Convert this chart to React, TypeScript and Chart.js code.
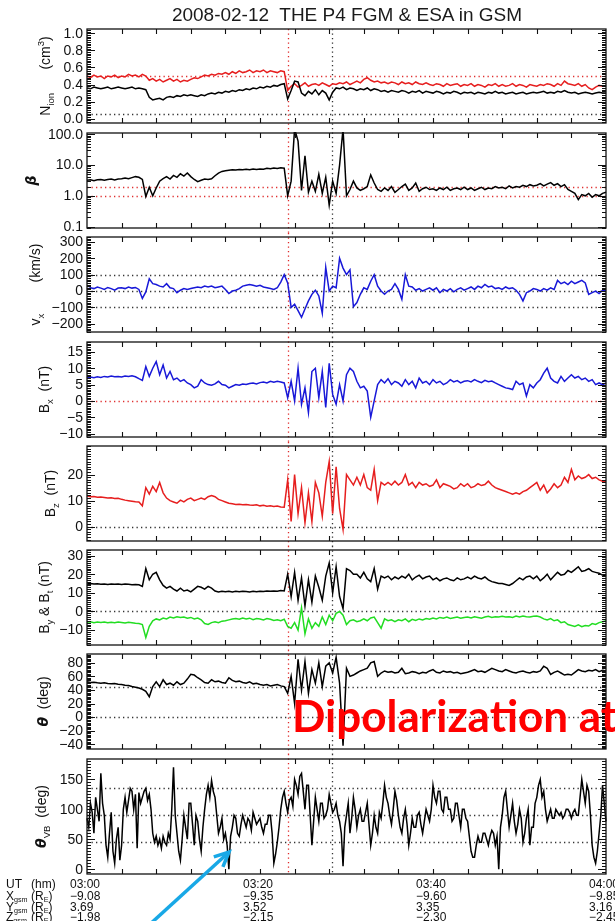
import React, { useEffect, useRef } from "react";
import { Chart, registerables } from "chart.js";

Chart.register(...registerables);

// Sample times in minutes after 03:00 UT (24 s cadence)
const TIMES: number[] = Array.from({ length: 151 }, (_, i) => Math.round(i * 4) / 10);
// Finer cadence used for the flow/field angle (12 s)
const TIMES_FINE: number[] = Array.from({ length: 301 }, (_, i) => Math.round(i * 2) / 10);

// Ion density (cm^-3): red = ESA full, black = ESA reduced
const N_ION_RED = [
  0.50, 0.48, 0.51, 0.49, 0.50, 0.47, 0.50, 0.49, 0.51, 0.48,
  0.50, 0.49, 0.52, 0.50, 0.51, 0.49, 0.52, 0.50, 0.45, 0.47,
  0.44, 0.46, 0.43, 0.45, 0.47, 0.44, 0.46, 0.43, 0.45, 0.44,
  0.46, 0.48, 0.47, 0.49, 0.51, 0.50, 0.52, 0.51, 0.53, 0.52,
  0.54, 0.52, 0.55, 0.53, 0.56, 0.54, 0.55, 0.57, 0.54, 0.56,
  0.55, 0.57, 0.54, 0.56, 0.55, 0.54, 0.56, 0.55, 0.33, 0.38,
  0.41, 0.37, 0.39, 0.42, 0.38, 0.40, 0.41, 0.39, 0.42, 0.40,
  0.38, 0.41, 0.40, 0.42, 0.41, 0.43, 0.40, 0.42, 0.44, 0.42,
  0.46, 0.48, 0.45, 0.43, 0.44, 0.42, 0.43, 0.41, 0.43, 0.42,
  0.40, 0.43, 0.41, 0.42, 0.40, 0.43, 0.41, 0.40, 0.42, 0.40,
  0.39, 0.41, 0.40, 0.38, 0.41, 0.39, 0.40, 0.41, 0.38, 0.40,
  0.39, 0.41, 0.38, 0.40, 0.39, 0.37, 0.40, 0.39, 0.41, 0.38,
  0.40, 0.38, 0.39, 0.41, 0.38, 0.40, 0.39, 0.37, 0.40, 0.39,
  0.38, 0.40, 0.39, 0.41, 0.40, 0.38, 0.41, 0.39, 0.44, 0.41,
  0.40, 0.39, 0.41, 0.38, 0.40, 0.36, 0.34, 0.37, 0.39, 0.38,
  0.39,
];
const N_ION_BLACK = [
  0.36, 0.35, 0.37, 0.36, 0.35, 0.36, 0.37, 0.35, 0.36, 0.37,
  0.36, 0.35, 0.36, 0.37, 0.35, 0.36, 0.35, 0.34, 0.25, 0.22,
  0.23, 0.24, 0.22, 0.25, 0.26, 0.25, 0.27, 0.26, 0.28, 0.27,
  0.28, 0.27, 0.26, 0.28, 0.27, 0.29, 0.30, 0.29, 0.31, 0.30,
  0.32, 0.31, 0.33, 0.32, 0.34, 0.33, 0.35, 0.34, 0.36, 0.35,
  0.37, 0.36, 0.38, 0.37, 0.39, 0.38, 0.40, 0.41, 0.23, 0.33,
  0.44, 0.43, 0.30, 0.27, 0.32, 0.29, 0.34, 0.28, 0.33, 0.30,
  0.22, 0.31, 0.36, 0.35, 0.37, 0.34, 0.36, 0.35, 0.33, 0.35,
  0.34, 0.36, 0.33, 0.35, 0.34, 0.32, 0.33, 0.31, 0.33, 0.32,
  0.31, 0.33, 0.32, 0.30, 0.32, 0.31, 0.33, 0.30, 0.32, 0.31,
  0.30, 0.32, 0.31, 0.29, 0.31, 0.30, 0.32, 0.31, 0.29, 0.31,
  0.30, 0.31, 0.29, 0.31, 0.30, 0.29, 0.31, 0.30, 0.32, 0.30,
  0.31, 0.29, 0.30, 0.31, 0.29, 0.30, 0.31, 0.29, 0.30, 0.31,
  0.30, 0.31, 0.32, 0.30, 0.31, 0.30, 0.32, 0.31, 0.33, 0.31,
  0.30, 0.31, 0.29, 0.30, 0.31, 0.30, 0.29, 0.30, 0.31, 0.30,
  0.30,
];
// Plasma beta
const BETA = [
  3.2, 3.3, 3.1, 3.3, 3.4, 3.2, 3.4, 3.5, 3.3, 3.5,
  3.6, 3.8, 3.6, 3.9, 4.2, 4.0, 3.4, 0.95, 1.9, 1.0,
  1.8, 3.0, 3.6, 4.2, 3.5, 4.6, 4.0, 5.2, 4.4, 5.5,
  4.2, 3.4, 2.9, 3.2, 3.5, 3.4, 3.6, 4.5, 5.5, 6.2,
  6.5, 6.8, 7.0, 6.9, 7.2, 7.0, 7.3, 7.1, 7.4, 7.2,
  7.5, 7.3, 7.8, 7.6, 8.0, 7.7, 8.2, 7.9, 1.0, 3.0,
  150, 60, 1.5, 20, 1.3, 3.0, 1.4, 5.0, 1.2, 4.0,
  0.5, 3.0, 1.2, 10, 150, 1.0, 1.6, 3.0, 1.8, 1.5,
  1.7, 2.0, 4.8, 2.6, 1.6, 1.4, 1.8, 1.5, 2.0, 1.3,
  1.6, 2.0, 2.4, 1.5, 1.8, 2.6, 1.4, 1.7, 1.9, 1.6,
  1.7, 1.5, 1.8, 1.6, 1.9, 1.5, 1.7, 1.8, 1.6, 1.9,
  1.6, 1.8, 1.5, 1.7, 1.9, 1.6, 1.8, 1.7, 2.0, 1.8,
  1.9, 1.7, 2.1, 1.8, 2.0, 1.9, 2.2, 2.0, 2.3, 2.1,
  2.2, 2.5, 2.1, 2.4, 2.7, 2.2, 2.5, 2.0, 2.3, 1.6,
  1.4, 1.2, 0.75, 1.1, 1.0, 1.2, 0.9, 1.1, 1.0, 1.2,
  1.3,
];
// Ion bulk velocity, x component (km/s)
const VX = [
  10, 20, 15, 25, 18, 10, 22, 15, 5, 18,
  20, 15, 25, 18, 22, 10, -45, -5, 75, 45,
  40, 30, 25, 45, 20, 15, -10, 5, 15, 10,
  15, 20, 25, 20, 30, 25, 30, 20, 25, 30,
  10, -15, 0, 5, 15, 30, 35, 40, 35, 30,
  35, 25, 20, 15, 10, 20, 55, 100, 50, -100,
  -80, -120, -160, -110, -60, -20, 5, -30, -135, 145,
  0, 30, 20, 200, 140, 100, 130, -95, -70, -20,
  20, 10, 60, 100, 30, 0, -20, 0, 10, 45,
  10, -50, 100, 30, 25, 5, 15, 0, 10, 20,
  5, 20, -10, 10, 0, 15, -5, 10, 20, 5,
  15, 25, 10, 30, 20, 40, 25, 30, 15, 20,
  10, 25, 15, 20, 5, -20, -60, -10, 0, 15,
  10, 0, 15, 5, 20, 10, 65, 45, 55, 40,
  60, 45, 55, 65, 50, -20, -10, 0, -15, 5,
  0,
];
// Magnetic field components (nT)
const BX = [
  7.0, 7.3, 7.1, 7.4, 7.2, 7.5, 7.3, 7.6, 7.4, 7.5,
  7.3, 7.6, 7.5, 7.7, 7.4, 6.8, 6.3, 10.5, 7.5, 10.0,
  12.0, 8.0, 11.0, 7.0, 9.0, 6.5, 7.0, 6.0, 6.5, 5.5,
  5.0, 4.0, 4.5, 6.5, 5.5, 5.0, 4.8, 5.2, 6.0, 5.0,
  4.8, 4.0, 4.5, 5.0, 4.8, 5.2, 5.0, 5.3, 5.5, 5.2,
  5.6, 5.8, 5.5, 6.0, 5.7, 6.0, 5.8, 5.5, 1.0, 6.0,
  0.0, 10.0, -1.0, 4.0, -3.5, 9.0, 10.0, 1.0, 9.0, -2.0,
  11.5, 2.0, -1.0, 5.0, 0.0, 8.0, 10.0, 9.0, 6.0, 4.0,
  4.5, 3.0, -5.0, 0.0, 5.0, 6.5, 5.5, 6.8, 5.0, 6.0,
  5.5, 4.5, 6.5, 5.0, 6.0, 4.0, 7.0, 5.5, 6.0, 5.0,
  6.5, 5.5, 6.0, 5.0, 5.5, 6.5, 5.8, 6.2, 5.5, 6.0,
  6.2, 5.8, 6.5, 6.0, 5.6, 6.3, 5.9, 6.1, 5.5, 5.0,
  4.5, 4.0, 3.8, 3.5, 6.0, 5.0, 5.5, 1.5, 5.0, 4.0,
  5.5, 6.5, 8.5, 10.0, 7.0, 6.0, 5.5, 7.5, 6.0, 7.0,
  8.0, 7.0, 7.5, 6.5, 7.0, 6.0, 6.5, 5.0, 5.5, 5.0,
  5.5,
];
const BZ = [
  11.8, 11.5, 11.6, 11.3, 11.4, 11.2, 11.0, 11.1, 10.8, 10.9,
  10.5, 10.2, 10.0, 9.8, 9.6, 9.5, 8.0, 15.0, 12.5, 15.5,
  13.5, 17.0, 13.0, 11.0, 10.0, 9.5, 9.0, 10.2, 9.5, 10.5,
  11.0, 10.0, 10.5, 11.0, 10.5, 11.5, 12.0, 11.5, 10.5, 10.0,
  9.5, 9.0, 8.8, 8.5, 8.6, 8.4, 8.5, 8.3, 8.2, 8.4,
  8.0, 8.2, 7.9, 8.0, 7.8, 7.9, 7.6, 7.5, 18.0, 2.0,
  20.0, 5.0, 15.0, 1.5, 13.0, 2.0, 17.0, 13.0, 4.0, 17.0,
  25.0, 5.0, 23.0, 7.0, -1.0, 20.0, 18.0, 16.0, 19.0, 16.0,
  20.0, 15.0, 14.0, 22.0, 10.0, 17.0, 16.0, 17.0, 16.0, 17.5,
  16.0, 17.0, 20.0, 16.0, 17.0, 15.0, 17.0, 16.0, 16.5, 15.5,
  16.0, 18.0, 15.0, 16.5, 16.0, 15.5, 14.5, 15.0, 16.5, 15.5,
  16.5, 15.0, 15.5, 16.5, 15.8, 16.2, 17.5, 16.0, 15.0, 14.5,
  14.0, 13.5, 13.0, 12.5, 13.0, 12.5, 13.5, 14.0, 15.0, 16.0,
  17.0, 14.0, 16.0, 13.0, 14.5, 16.5, 15.0, 16.0, 19.0, 17.0,
  22.0, 18.0, 19.5, 18.5, 19.0, 20.0, 18.5, 19.0, 18.0, 17.5,
  17.5,
];
const BT = [
  14.8, 15.0, 14.7, 14.9, 14.6, 14.8, 14.5, 14.7, 14.6, 14.8,
  14.5, 14.7, 14.6, 14.4, 14.5, 14.3, 13.5, 23.0, 17.0, 20.0,
  21.0, 17.0, 14.0, 12.5, 13.5, 12.0, 11.0, 12.5, 11.0, 11.5,
  10.5, 12.0, 13.5, 13.0, 12.0, 13.5, 12.5, 11.0, 10.5, 10.8,
  10.6, 10.9, 10.5, 10.8, 10.6, 10.9, 10.7, 10.5, 10.8, 10.6,
  10.9, 10.7, 11.0, 10.8, 11.0, 10.9, 11.2, 11.0, 20.0, 8.0,
  21.0, 6.0, 18.0, 3.0, 17.0, 5.0, 19.0, 13.0, 6.0, 19.0,
  26.0, 10.0, 24.0, 8.0, 1.5, 23.0, 22.0, 20.0, 20.0, 18.0,
  21.0, 17.5, 16.0, 23.0, 12.0, 19.0, 18.0, 19.0, 17.0, 18.5,
  17.5, 19.0, 18.0, 20.0, 17.0, 18.5, 19.5, 17.5, 18.5, 19.0,
  17.0, 18.0, 16.5, 17.5, 18.0, 17.0, 16.5, 18.0, 17.0, 17.5,
  18.5, 17.5, 19.0, 18.0, 17.5, 18.5, 17.0, 16.0, 15.5, 15.0,
  15.0, 14.5, 14.0, 15.0, 16.5, 18.0, 17.0, 18.5, 19.0, 17.5,
  19.0, 16.5, 18.0, 20.0, 17.0, 19.0, 21.0, 19.5, 20.0, 22.0,
  21.0, 22.5, 24.0, 21.5, 22.0, 23.0, 21.5, 21.0, 20.5, 19.5,
  19.0,
];
const BY = [
  -5.8, -5.5, -6.0, -5.7, -5.9, -5.6, -6.1, -5.8, -6.0, -5.7,
  -5.9, -6.2, -5.8, -6.0, -6.3, -6.5, -7.0, -14.0, -8.0, -5.0,
  -4.0, -4.5, -3.5, -4.0, -3.0, -3.5, -2.8, -3.2, -3.0, -3.6,
  -3.2, -4.0, -3.5, -4.5, -6.5, -7.0, -6.0, -5.5, -6.0, -5.2,
  -5.0, -4.5, -4.0, -3.8, -4.2, -3.5, -4.0, -3.6, -4.4, -3.8,
  -4.0, -4.5, -3.8, -4.2, -4.8, -4.5, -5.0, -4.2, -8.0, -9.0,
  -6.0, -10.0, 2.0, -12.0, -4.0, -9.0, -6.0, -8.0, -3.0, -7.0,
  -2.0, -5.0, -1.0, 0.0, -2.0, -7.0, -5.0, -4.5, -5.5, -5.0,
  -4.0, -5.0, -3.5, -3.0, -6.0, -9.0, -4.0, -5.0, -4.5, -5.5,
  -4.5, -5.0, -4.0, -5.5, -4.2, -4.8, -4.0, -4.5, -3.8, -4.2,
  -3.5, -4.0, -3.2, -3.6, -3.0, -3.8, -3.4, -3.0, -3.6, -3.2,
  -3.0, -3.5, -2.8, -3.2, -3.6, -3.0, -2.6, -3.2, -2.8, -3.0,
  -2.6, -3.0, -2.8, -3.2, -2.5, -3.0, -2.4, -2.8, -3.0, -2.6,
  -2.5, -3.0, -4.0, -4.5, -3.8, -5.0, -4.5, -6.0, -5.5, -7.0,
  -7.5, -8.0, -7.2, -8.2, -7.5, -7.8, -6.5, -7.0, -6.0, -5.5,
  -5.0,
];
// Field elevation angle (deg)
const THETA = [
  52, 51, 51.5, 50.5, 50, 50.5, 49.5, 49, 49.5, 48.5,
  48, 47, 46.5, 45, 44, 43, 41, 38, 30, 45,
  52, 45, 55, 48, 50, 47, 52, 48, 50, 56,
  63, 62, 58, 55, 51, 50, 55, 52, 53, 51,
  50, 58, 54, 52, 53, 51, 50, 52, 49, 50,
  48, 47, 48, 46, 47, 48, 46, 45, 35, 60,
  20, 85, 40, 82, 35, 70, 50, 80, 45, 75,
  80, 65, 88, 50, -42, 72, 60, 62, 65, 68,
  70, 72, 80, 82, 60, 65, 68, 66, 67, 65,
  66, 72, 64, 65, 67, 66, 64, 66, 65, 68,
  70, 66, 65, 68, 66, 67, 65, 66, 64, 65,
  66, 68, 70, 67, 68, 66, 69, 72, 70, 68,
  67, 70, 68, 66, 65, 67, 68, 66, 65, 67,
  66, 68, 75, 72, 63, 66, 68, 65, 62, 63,
  62, 66, 70, 68, 67, 69, 68, 70, 67, 69,
  68,
];
// Angle between flow and field (deg), 12 s cadence
const THETA_VB = [
  85, 70, 110, 95, 60, 120, 100, 80, 160, 110,
  90, 40, 20, 60, 95, 30, 10, 50, 70, 15,
  40, 100, 120, 95, 115, 135, 130, 100, 125, 35,
  128, 110, 120, 130, 135, 115, 125, 100, 60, 45,
  55, 40, 50, 35, 55, 45, 40, 60, 50, 100,
  170, 90, 60, 30, 15, 50, 90, 70, 50, 110,
  110, 75, 40, 90, 80, 50, 30, 70, 100, 125,
  140, 120, 148, 130, 120, 90, 60, 70, 85, 50,
  60, 40, 0, 55, 70, 90, 85, 60, 55, 75,
  90, 80, 70, 85, 80, 65, 95, 85, 75, 80,
  85, 70, 60, 75, 75, 90, 90, 60, 10, 25,
  45, 70, 100, 120, 130, 110, 95, 115, 120, 105,
  150, 140, 125, 155, 160, 130, 100, 140, 140, 90,
  40, 80, 120, 100, 80, 110, 110, 85, 90, 100,
  125, 110, 95, 100, 110, 90, 80, 60, 5, 70,
  90, 110, 60, 85, 120, 100, 70, 90, 100, 80,
  80, 95, 110, 75, 40, 60, 90, 70, 60, 95,
  85, 110, 140, 120, 110, 90, 75, 100, 130, 115,
  90, 70, 60, 85, 100, 75, 40, 60, 85, 70,
  70, 90, 95, 75, 60, 80, 100, 90, 80, 100,
  140, 120, 110, 130, 130, 100, 95, 120, 120, 100,
  100, 80, 85, 110, 110, 90, 70, 100, 100, 85,
  80, 55, 30, 20, 20, 40, 55, 45, 45, 60,
  60, 50, 40, 55, 65, 60, 40, 55, 0, 70,
  90, 120, 130, 100, 70, 90, 110, 80, 60, 75,
  100, 85, 45, 60, 85, 100, 40, 70, 70, 110,
  120, 140, 150, 120, 130, 100, 80, 90, 100, 85,
  85, 100, 95, 90, 95, 85, 90, 100, 100, 95,
  85, 95, 100, 90, 90, 120, 150, 130, 110, 140,
  130, 90, 40, 20, 10, 30, 60, 90, 140, 110,
  80,
];

// Event markers (minutes after 03:00)
const MARKER_TIMES = [23.2, 28.3];
const MARKER_COLORS = ["#e02828", "#333333"];

// Axis ticks and labels
const N_TICKS = [0, 0.2, 0.4, 0.6, 0.8, 1.0];
const N_TICK_LABELS = ["0.0", "0.2", "0.4", "0.6", "0.8", "1.0"];
const BETA_TICKS = [0.1, 1, 10, 100];
const BETA_TICK_LABELS = ["0.1", "1.0", "10.0", "100.0"];
const VX_TICKS = [-200, -100, 0, 100, 200, 300];
const VX_TICK_LABELS = ["\u2212200", "\u2212100", "0", "100", "200", "300"];
const BX_TICKS = [-10, -5, 0, 5, 10, 15];
const BX_TICK_LABELS = ["\u221210", "\u22125", "0", "5", "10", "15"];
const BZ_TICKS = [0, 10, 20];
const BZ_TICK_LABELS = ["0", "10", "20"];
const BYT_TICKS = [-10, 0, 10, 20, 30];
const BYT_TICK_LABELS = ["\u221210", "0", "10", "20", "30"];
const TH_TICKS = [-40, -20, 0, 20, 40, 60, 80];
const TH_TICK_LABELS = ["\u221240", "\u221220", "0", "20", "40", "60", "80"];
const THVB_TICKS = [0, 50, 100, 150];
const THVB_TICK_LABELS = ["0", "50", "100", "150"];

const UT_TICKS = [0, 20, 40, 60];
const UT_LABELS = ["03:00", "03:20", "03:40", "04:00"];
const XGSM_LABELS = ["\u22129.08", "\u22129.35", "\u22129.60", "\u22129.85"];
const YGSM_LABELS = ["3.69", "3.52", "3.35", "3.16"];
const ZGSM_LABELS = ["\u22121.98", "\u22122.15", "\u22122.30", "\u22122.45"];

const FONT = '"Liberation Sans", Arial, Helvetica, sans-serif';
const RED = "#e61e1e";
const BLUE = "#1818d8";
const GREEN = "#22dd22";
const BLACK = "#000000";
const DOT_RED = "#e03030";
const DOT_BLACK = "#333333";

type Part = { t: string; sub?: boolean; sup?: boolean; greek?: boolean };

interface Series { values: number[]; color: string; times?: number[] }
interface Ref { value: number; color: string }
interface PanelDef {
  top: number;
  bottom: number;
  yType: "linear" | "logarithmic";
  yMin: number;
  yMax: number;
  ticks: number[];
  tickLabels: string[];
  minorStep: number; // 0 = logarithmic minors
  title: Part[];
  titleX: number;
  series: Series[];
  refs: Ref[];
}

const PANELS: PanelDef[] = [
  {
    top: 29, bottom: 123, yType: "linear", yMin: -0.05, yMax: 1.05,
    ticks: N_TICKS, tickLabels: N_TICK_LABELS, minorStep: 0.02,
    title: [{ t: "N" }, { t: "ion", sub: true }, { t: "      (cm" }, { t: "3", sup: true }, { t: ")" }],
    titleX: 45,
    series: [{ values: N_ION_BLACK, color: BLACK }, { values: N_ION_RED, color: RED }],
    refs: [{ value: 0.05, color: DOT_BLACK }, { value: 0.5, color: DOT_RED }],
  },
  {
    top: 133, bottom: 228, yType: "logarithmic", yMin: 0.09, yMax: 110,
    ticks: BETA_TICKS, tickLabels: BETA_TICK_LABELS, minorStep: 0,
    title: [{ t: "\u03b2", greek: true }],
    titleX: 31,
    series: [{ values: BETA, color: BLACK }],
    refs: [{ value: 1, color: DOT_RED }, { value: 2, color: DOT_RED }],
  },
  {
    top: 237, bottom: 332, yType: "linear", yMin: -250, yMax: 330,
    ticks: VX_TICKS, tickLabels: VX_TICK_LABELS, minorStep: 10,
    title: [{ t: "v" }, { t: "x", sub: true }, { t: "        (km/s)" }],
    titleX: 35,
    series: [{ values: VX, color: BLUE }],
    refs: [{ value: -100, color: DOT_BLACK }, { value: 0, color: DOT_BLACK }, { value: 100, color: DOT_BLACK }],
  },
  {
    top: 342, bottom: 437, yType: "linear", yMin: -11, yMax: 18,
    ticks: BX_TICKS, tickLabels: BX_TICK_LABELS, minorStep: 0.5,
    title: [{ t: "B" }, { t: "x", sub: true }, { t: "  (nT)" }],
    titleX: 44,
    series: [{ values: BX, color: BLUE }],
    refs: [{ value: 0, color: DOT_RED }],
  },
  {
    top: 446, bottom: 541, yType: "linear", yMin: -5.5, yMax: 31,
    ticks: BZ_TICKS, tickLabels: BZ_TICK_LABELS, minorStep: 1,
    title: [{ t: "B" }, { t: "z", sub: true }, { t: "  (nT)" }],
    titleX: 50,
    series: [{ values: BZ, color: RED }],
    refs: [{ value: 0, color: DOT_BLACK }],
  },
  {
    top: 550, bottom: 645, yType: "linear", yMin: -18, yMax: 33,
    ticks: BYT_TICKS, tickLabels: BYT_TICK_LABELS, minorStep: 1,
    title: [{ t: "B" }, { t: "y", sub: true }, { t: " & B" }, { t: "t", sub: true }, { t: " (nT)" }],
    titleX: 44,
    series: [{ values: BT, color: BLACK }, { values: BY, color: GREEN }],
    refs: [{ value: 0, color: DOT_BLACK }],
  },
  {
    top: 654, bottom: 749, yType: "linear", yMin: -47, yMax: 93,
    ticks: TH_TICKS, tickLabels: TH_TICK_LABELS, minorStep: 2,
    title: [{ t: "\u03b8", greek: true }, { t: "  (deg)" }],
    titleX: 43,
    series: [{ values: THETA, color: BLACK }],
    refs: [{ value: 0, color: DOT_BLACK }, { value: 45, color: DOT_BLACK }],
  },
  {
    top: 759, bottom: 874, yType: "linear", yMin: -8, yMax: 184,
    ticks: THVB_TICKS, tickLabels: THVB_TICK_LABELS, minorStep: 5,
    title: [{ t: "\u03b8", greek: true }, { t: "VB", sub: true }, { t: "  (deg)" }],
    titleX: 41,
    series: [{ values: THETA_VB, color: BLACK, times: TIMES_FINE }],
    refs: [{ value: 45, color: DOT_BLACK }, { value: 90, color: DOT_BLACK }, { value: 135, color: DOT_BLACK }],
  },
];

const PAGE_W = 615;
const PAGE_H = 921;
const PLOT_LEFT = 87;
const PLOT_RIGHT = 606;

function fontFor(size: number, p: Part) {
  return p.greek ? `italic bold ${size}px "DejaVu Sans", sans-serif` : `${size}px ${FONT}`;
}

function partSize(size: number, p: Part, small: number) {
  return p.sub || p.sup ? size * small : size;
}

function richWidth(ctx: CanvasRenderingContext2D, parts: Part[], size: number, small: number) {
  let w = 0;
  for (const p of parts) {
    ctx.font = fontFor(partSize(size, p, small), p);
    w += ctx.measureText(p.t).width;
  }
  return w;
}

function drawRich(
  ctx: CanvasRenderingContext2D,
  parts: Part[],
  x: number,
  y: number,
  size: number,
  align: "left" | "center",
  small = 0.68,
  subDrop = 0.25,
) {
  let cx = align === "center" ? x - richWidth(ctx, parts, size, small) / 2 : x;
  ctx.textAlign = "left";
  ctx.textBaseline = "alphabetic";
  for (const p of parts) {
    ctx.font = fontFor(partSize(size, p, small), p);
    const dy = p.sub ? size * subDrop : p.sup ? -size * 0.42 : 0;
    ctx.fillText(p.t, cx, y + dy);
    cx += ctx.measureText(p.t).width;
  }
}

function minorValues(p: PanelDef): number[] {
  const out: number[] = [];
  if (p.minorStep > 0) {
    const start = Math.ceil(p.yMin / p.minorStep);
    const end = Math.floor(p.yMax / p.minorStep);
    for (let k = start; k <= end; k++) out.push(k * p.minorStep);
  } else {
    for (let e = -2; e <= 2; e++) {
      for (let m = 2; m <= 9; m++) {
        const v = m * Math.pow(10, e);
        if (v >= p.yMin && v <= p.yMax) out.push(v);
      }
    }
  }
  return out;
}

function framePlugin(p: PanelDef, extTop: number, extBottom: number, isLast: boolean) {
  return {
    id: "idlFrame",
    beforeDatasetsDraw(chart: any) {
      const { ctx, chartArea: ca, scales } = chart;
      ctx.save();
      ctx.lineWidth = 1.3;
      ctx.setLineDash([1.3, 3.2]);
      for (const r of p.refs) {
        const y = Math.round(scales.y.getPixelForValue(r.value)) + 0.5;
        ctx.strokeStyle = r.color;
        ctx.beginPath();
        ctx.moveTo(ca.left, y);
        ctx.lineTo(ca.right, y);
        ctx.stroke();
      }
      MARKER_TIMES.forEach((t, i) => {
        const x = Math.round(scales.x.getPixelForValue(t)) + 0.5;
        ctx.strokeStyle = MARKER_COLORS[i];
        ctx.beginPath();
        ctx.moveTo(x, ca.top - extTop);
        ctx.lineTo(x, ca.bottom + extBottom);
        ctx.stroke();
      });
      ctx.restore();
    },
    afterDatasetsDraw(chart: any) {
      const { ctx, chartArea: ca, scales } = chart;
      const xs = scales.x;
      const ys = scales.y;
      ctx.save();
      ctx.setLineDash([]);
      ctx.strokeStyle = "#111";
      ctx.fillStyle = "#111";
      ctx.lineWidth = 1.3;
      ctx.strokeRect(ca.left, ca.top, ca.right - ca.left, ca.bottom - ca.top);

      // time ticks every 4 minutes, top and bottom
      ctx.lineWidth = 1.1;
      ctx.beginPath();
      for (let t = 4; t < 60; t += 4) {
        const x = Math.round(xs.getPixelForValue(t)) + 0.5;
        ctx.moveTo(x, ca.bottom);
        ctx.lineTo(x, ca.bottom - 5);
        ctx.moveTo(x, ca.top);
        ctx.lineTo(x, ca.top + 5);
      }
      ctx.stroke();

      // value ticks, both sides, inward
      ctx.beginPath();
      for (const v of minorValues(p)) {
        const y = Math.round(ys.getPixelForValue(v)) + 0.5;
        ctx.moveTo(ca.left, y);
        ctx.lineTo(ca.left + 4, y);
        ctx.moveTo(ca.right, y);
        ctx.lineTo(ca.right - 4, y);
      }
      for (const v of p.ticks) {
        const y = Math.round(ys.getPixelForValue(v)) + 0.5;
        ctx.moveTo(ca.left, y);
        ctx.lineTo(ca.left + 8, y);
        ctx.moveTo(ca.right, y);
        ctx.lineTo(ca.right - 8, y);
      }
      ctx.stroke();

      // tick labels
      ctx.font = `14px ${FONT}`;
      ctx.textAlign = "right";
      ctx.textBaseline = "middle";
      p.ticks.forEach((v, i) => {
        ctx.fillText(p.tickLabels[i], ca.left - 4, ys.getPixelForValue(v) + 0.5);
      });

      // rotated axis title
      ctx.save();
      ctx.translate(p.titleX, (ca.top + ca.bottom) / 2);
      ctx.rotate(-Math.PI / 2);
      drawRich(ctx, p.title, 0, 5, 14, "center");
      ctx.restore();

      if (isLast) {
        // time / position table under the bottom panel
        const rows = [ca.bottom + 14, ca.bottom + 25.5, ca.bottom + 37, ca.bottom + 47];
        const size = 12;
        const small = 0.6;
        const drop = 0.2;
        drawRich(ctx, [{ t: "UT" }], 6, rows[0], size, "left", small, drop);
        drawRich(ctx, [{ t: "(hm)" }], 31, rows[0], size, "left", small, drop);
        const heads: Part[][] = [
          [{ t: "X" }, { t: "gsm", sub: true }],
          [{ t: "Y" }, { t: "gsm", sub: true }],
          [{ t: "Z" }, { t: "gsm", sub: true }],
        ];
        heads.forEach((h, i) => {
          drawRich(ctx, h, 6, rows[i + 1], size, "left", small, drop);
          drawRich(ctx, [{ t: "(R" }, { t: "E", sub: true }, { t: ")" }], 31, rows[i + 1], size, "left", small, drop);
        });
        const cols = [UT_LABELS, XGSM_LABELS, YGSM_LABELS, ZGSM_LABELS];
        ctx.font = `${size}px ${FONT}`;
        ctx.textAlign = "left";
        ctx.textBaseline = "alphabetic";
        UT_TICKS.forEach((t, i) => {
          const x = xs.getPixelForValue(t) - 17;
          cols.forEach((c, r) => ctx.fillText(c[i], x, rows[r]));
        });
      }
      ctx.restore();
    },
  };
}

function Panel({ def, y0, y1, extTop, extBottom, isLast }: { def: PanelDef; y0: number; y1: number; extTop: number; extBottom: number; isLast: boolean }) {
  const ref = useRef<HTMLCanvasElement>(null);
  useEffect(() => {
    const canvas = ref.current;
    if (!canvas) return;
    const chart = new Chart(canvas, {
      type: "line",
      data: {
        datasets: def.series.map((s) => {
          const times = s.times || TIMES;
          return {
            data: times.map((t, i) => ({ x: t, y: s.values[i] })),
            borderColor: s.color,
            borderWidth: 1.5,
            pointRadius: 0,
            tension: 0,
            fill: false,
            clip: 1,
          };
        }),
      },
      options: {
        responsive: false,
        animation: false,
        devicePixelRatio: 1,
        events: [],
        layout: {
          padding: { left: PLOT_LEFT, right: PAGE_W - PLOT_RIGHT, top: def.top - y0, bottom: y1 - def.bottom },
        },
        scales: {
          x: { type: "linear", min: 0, max: 60, display: false },
          y: { type: def.yType, min: def.yMin, max: def.yMax, display: false },
        },
        plugins: { legend: { display: false }, tooltip: { enabled: false } },
      } as any,
      plugins: [framePlugin(def, extTop, extBottom, isLast)],
    });
    return () => chart.destroy();
  }, [def, y0, y1, extTop, extBottom, isLast]);
  return (
    <canvas
      ref={ref}
      width={PAGE_W}
      height={y1 - y0}
      style={{ position: "absolute", left: 0, top: y0, width: PAGE_W, height: y1 - y0, display: "block" }}
    />
  );
}

export default function App() {
  const slots = PANELS.map((p, i) => {
    const prev = PANELS[i - 1];
    const next = PANELS[i + 1];
    const y0 = prev ? Math.round((prev.bottom + p.top) / 2) : 0;
    const y1 = next ? Math.round((p.bottom + next.top) / 2) : PAGE_H;
    return { y0, y1, extTop: prev ? p.top - y0 : 0, extBottom: next ? y1 - p.bottom : 0 };
  });
  return (
    <div style={{ position: "absolute", left: 0, top: 0, width: PAGE_W, height: PAGE_H, background: "#fff", overflow: "hidden" }}>
      {PANELS.map((p, i) => (
        <Panel key={i} def={p} {...slots[i]} isLast={i === PANELS.length - 1} />
      ))}
      <svg width={PAGE_W} height={PAGE_H} style={{ position: "absolute", left: 0, top: 0, pointerEvents: "none" }}>
        <text x={347} y={21} textAnchor="middle" fontFamily={FONT} fontSize={19} fill="#1a1a1a" style={{ whiteSpace: "pre" }}>
          {"2008-02-12  THE P4 FGM & ESA in GSM"}
        </text>
        <text x={292} y={732} fontFamily="Lato, 'Open Sans', sans-serif" fontWeight={700} fontSize={44} fill="#ff0000">
          Dipolarization at
        </text>
        <line x1={148} y1={926} x2={228} y2={853} stroke="#18a8e6" strokeWidth={3.5} />
        <polyline points="222.9,866.8 229,852 213.8,856.9" fill="none" stroke="#18a8e6" strokeWidth={3.5} strokeLinejoin="miter" />
      </svg>
    </div>
  );
}
